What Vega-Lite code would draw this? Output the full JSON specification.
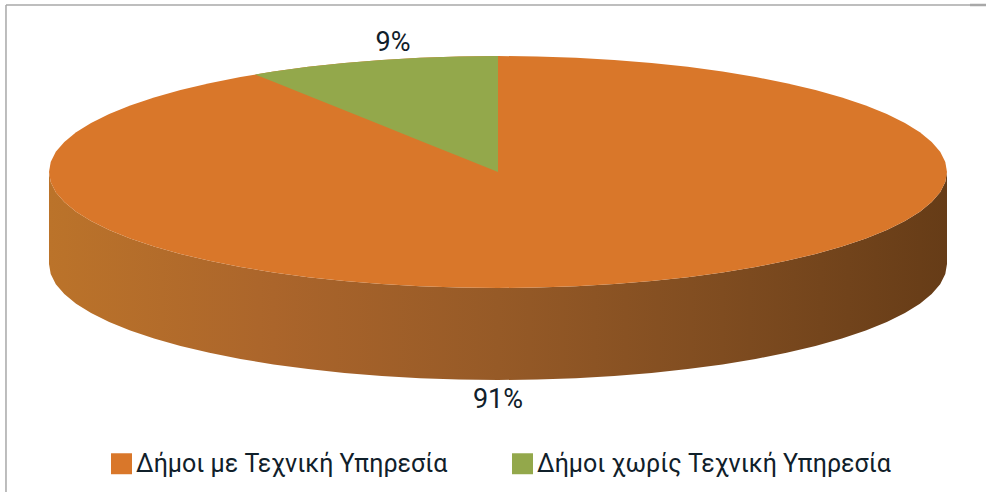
{"$schema":"https://vega.github.io/schema/vega-lite/v6.json","autosize":{"type":"fit","contains":"padding"},"width":986,"height":492,"padding":0,"background":"white","view":{"stroke":null},
"datasets":{
"wall":[
{"x":-1,"y":0,"y2":-0.793},{"x":-0.9962,"y":-0.0872,"y2":-0.8802},{"x":-0.9848,"y":-0.1736,"y2":-0.9666},{"x":-0.9659,"y":-0.2588,"y2":-1.0518},{"x":-0.9397,"y":-0.342,"y2":-1.135},{"x":-0.9063,"y":-0.4226,"y2":-1.2156},{"x":-0.866,"y":-0.5,"y2":-1.293},{"x":-0.8192,"y":-0.5736,"y2":-1.3666},{"x":-0.766,"y":-0.6428,"y2":-1.4358},{"x":-0.7071,"y":-0.7071,"y2":-1.5001},{"x":-0.6428,"y":-0.766,"y2":-1.559},{"x":-0.5736,"y":-0.8192,"y2":-1.6122},{"x":-0.5,"y":-0.866,"y2":-1.659},{"x":-0.4226,"y":-0.9063,"y2":-1.6993},{"x":-0.342,"y":-0.9397,"y2":-1.7327},{"x":-0.2588,"y":-0.9659,"y2":-1.7589},{"x":-0.1736,"y":-0.9848,"y2":-1.7778},{"x":-0.0872,"y":-0.9962,"y2":-1.7892},{"x":0,"y":-1,"y2":-1.793},{"x":0.0872,"y":-0.9962,"y2":-1.7892},{"x":0.1736,"y":-0.9848,"y2":-1.7778},{"x":0.2588,"y":-0.9659,"y2":-1.7589},{"x":0.342,"y":-0.9397,"y2":-1.7327},{"x":0.4226,"y":-0.9063,"y2":-1.6993},{"x":0.5,"y":-0.866,"y2":-1.659},{"x":0.5736,"y":-0.8192,"y2":-1.6122},{"x":0.6428,"y":-0.766,"y2":-1.559},{"x":0.7071,"y":-0.7071,"y2":-1.5001},{"x":0.766,"y":-0.6428,"y2":-1.4358},{"x":0.8192,"y":-0.5736,"y2":-1.3666},{"x":0.866,"y":-0.5,"y2":-1.293},{"x":0.9063,"y":-0.4226,"y2":-1.2156},{"x":0.9397,"y":-0.342,"y2":-1.135},{"x":0.9659,"y":-0.2588,"y2":-1.0518},{"x":0.9848,"y":-0.1736,"y2":-0.9666},{"x":0.9962,"y":-0.0872,"y2":-0.8802},{"x":1,"y":0,"y2":-0.793}],
"surface":[
{"c":"Δήμοι με Τεχνική Υπηρεσία","x":-1,"y":0,"y2":0},{"c":"Δήμοι με Τεχνική Υπηρεσία","x":-0.9962,"y":0.0872,"y2":-0.0872},{"c":"Δήμοι με Τεχνική Υπηρεσία","x":-0.9848,"y":0.1736,"y2":-0.1736},{"c":"Δήμοι με Τεχνική Υπηρεσία","x":-0.9659,"y":0.2588,"y2":-0.2588},{"c":"Δήμοι με Τεχνική Υπηρεσία","x":-0.9397,"y":0.342,"y2":-0.342},{"c":"Δήμοι με Τεχνική Υπηρεσία","x":-0.9063,"y":0.4226,"y2":-0.4226},{"c":"Δήμοι με Τεχνική Υπηρεσία","x":-0.866,"y":0.5,"y2":-0.5},{"c":"Δήμοι με Τεχνική Υπηρεσία","x":-0.8192,"y":0.5736,"y2":-0.5736},{"c":"Δήμοι με Τεχνική Υπηρεσία","x":-0.766,"y":0.6428,"y2":-0.6428},{"c":"Δήμοι με Τεχνική Υπηρεσία","x":-0.7071,"y":0.7071,"y2":-0.7071},{"c":"Δήμοι με Τεχνική Υπηρεσία","x":-0.6428,"y":0.766,"y2":-0.766},{"c":"Δήμοι με Τεχνική Υπηρεσία","x":-0.5736,"y":0.8192,"y2":-0.8192},{"c":"Δήμοι με Τεχνική Υπηρεσία","x":-0.5,"y":0.866,"y2":-0.866},{"c":"Δήμοι με Τεχνική Υπηρεσία","x":-0.4226,"y":0.9063,"y2":-0.9063},{"c":"Δήμοι με Τεχνική Υπηρεσία","x":-0.342,"y":0.9397,"y2":-0.9397},{"c":"Δήμοι με Τεχνική Υπηρεσία","x":-0.2588,"y":0.9659,"y2":-0.9659},{"c":"Δήμοι με Τεχνική Υπηρεσία","x":-0.1736,"y":0.9848,"y2":-0.9848},{"c":"Δήμοι με Τεχνική Υπηρεσία","x":-0.0872,"y":0.9962,"y2":-0.9962},{"c":"Δήμοι με Τεχνική Υπηρεσία","x":0,"y":1,"y2":-1},{"c":"Δήμοι με Τεχνική Υπηρεσία","x":0.0872,"y":0.9962,"y2":-0.9962},{"c":"Δήμοι με Τεχνική Υπηρεσία","x":0.1736,"y":0.9848,"y2":-0.9848},{"c":"Δήμοι με Τεχνική Υπηρεσία","x":0.2588,"y":0.9659,"y2":-0.9659},{"c":"Δήμοι με Τεχνική Υπηρεσία","x":0.342,"y":0.9397,"y2":-0.9397},{"c":"Δήμοι με Τεχνική Υπηρεσία","x":0.4226,"y":0.9063,"y2":-0.9063},{"c":"Δήμοι με Τεχνική Υπηρεσία","x":0.5,"y":0.866,"y2":-0.866},{"c":"Δήμοι με Τεχνική Υπηρεσία","x":0.5736,"y":0.8192,"y2":-0.8192},{"c":"Δήμοι με Τεχνική Υπηρεσία","x":0.6428,"y":0.766,"y2":-0.766},{"c":"Δήμοι με Τεχνική Υπηρεσία","x":0.7071,"y":0.7071,"y2":-0.7071},{"c":"Δήμοι με Τεχνική Υπηρεσία","x":0.766,"y":0.6428,"y2":-0.6428},{"c":"Δήμοι με Τεχνική Υπηρεσία","x":0.8192,"y":0.5736,"y2":-0.5736},{"c":"Δήμοι με Τεχνική Υπηρεσία","x":0.866,"y":0.5,"y2":-0.5},{"c":"Δήμοι με Τεχνική Υπηρεσία","x":0.9063,"y":0.4226,"y2":-0.4226},{"c":"Δήμοι με Τεχνική Υπηρεσία","x":0.9397,"y":0.342,"y2":-0.342},{"c":"Δήμοι με Τεχνική Υπηρεσία","x":0.9659,"y":0.2588,"y2":-0.2588},{"c":"Δήμοι με Τεχνική Υπηρεσία","x":0.9848,"y":0.1736,"y2":-0.1736},{"c":"Δήμοι με Τεχνική Υπηρεσία","x":0.9962,"y":0.0872,"y2":-0.0872},{"c":"Δήμοι με Τεχνική Υπηρεσία","x":1,"y":0,"y2":0},
{"c":"Δήμοι χωρίς Τεχνική Υπηρεσία","x":-0.5412,"y":0.841,"y2":0.841},{"c":"Δήμοι χωρίς Τεχνική Υπηρεσία","x":-0.5,"y":0.866,"y2":0.777},{"c":"Δήμοι χωρίς Τεχνική Υπηρεσία","x":-0.4226,"y":0.9063,"y2":0.6567},{"c":"Δήμοι χωρίς Τεχνική Υπηρεσία","x":-0.342,"y":0.9397,"y2":0.5315},{"c":"Δήμοι χωρίς Τεχνική Υπηρεσία","x":-0.2588,"y":0.9659,"y2":0.4022},{"c":"Δήμοι χωρίς Τεχνική Υπηρεσία","x":-0.1736,"y":0.9848,"y2":0.2698},{"c":"Δήμοι χωρίς Τεχνική Υπηρεσία","x":-0.0872,"y":0.9962,"y2":0.1355},{"c":"Δήμοι χωρίς Τεχνική Υπηρεσία","x":0,"y":1,"y2":0}],
"labels":[{"c":"Δήμοι χωρίς Τεχνική Υπηρεσία","share":9,"text":"9%","x":-0.2339,"y":1.1122},{"c":"Δήμοι με Τεχνική Υπηρεσία","share":91,"text":"91%","x":0,"y":-1.965}],
"frameV":[{"x":-1.0958,"y":1.4397,"y2":-2.75862}],
"frameH":[{"x":-1.0958,"x2":1.0512,"y":1.4397}],
"frameH2":[{"x":1.0512,"x2":1.08686,"y":1.4397}]
},
"encoding":{
"x":{"field":"x","type":"quantitative","axis":null,"scale":{"domain":[-1.10913,1.08686],"nice":false,"zero":false}},
"y":{"field":"y","type":"quantitative","axis":null,"scale":{"domain":[-2.75862,1.48276],"nice":false,"zero":false}}
},
"layer":[
{"data":{"name":"wall"},"mark":{"type":"area","orient":"vertical","color":{"gradient":"linear","x1":0,"x2":1,"y1":0,"y2":0,"stops":[{"offset":0,"color":"#BB732A"},{"offset":0.25,"color":"#AB652B"},{"offset":0.5,"color":"#965A27"},{"offset":0.75,"color":"#7F4C20"},{"offset":1,"color":"#663C17"}]}},"encoding":{"y2":{"field":"y2"}}},
{"data":{"name":"surface"},"mark":{"type":"area","orient":"vertical"},"encoding":{"y2":{"field":"y2"},"color":{"field":"c","type":"nominal","scale":{"domain":["Δήμοι με Τεχνική Υπηρεσία","Δήμοι χωρίς Τεχνική Υπηρεσία"],"range":["#D9772A","#93A84B"]},"legend":{"title":null,"orient":"none","legendX":109,"legendY":451,"direction":"horizontal","columns":2,"symbolType":"square","symbolSize":440,"symbolOpacity":1,"symbolStrokeWidth":0,"labelFont":"Roboto","labelFontSize":25,"labelColor":"#10202a","labelOffset":2,"columnPadding":62,"labelLimit":400}}}},
{"data":{"name":"labels"},"mark":{"type":"text","font":"Roboto","fontSize":27,"color":"#10202a","align":"center","baseline":"middle"},"encoding":{"text":{"field":"text"}}},
{"data":{"name":"frameV"},"mark":{"type":"rule","clip":true,"color":"#A8A8A8","strokeWidth":1.5},"encoding":{"y2":{"field":"y2"}}},
{"data":{"name":"frameH"},"mark":{"type":"rule","clip":true,"color":"#A8A8A8","strokeWidth":1.5},"encoding":{"x2":{"field":"x2"}}},
{"data":{"name":"frameH2"},"mark":{"type":"rule","clip":true,"color":"#A8A8A8","strokeWidth":2.5},"encoding":{"x2":{"field":"x2"}}}
]}
